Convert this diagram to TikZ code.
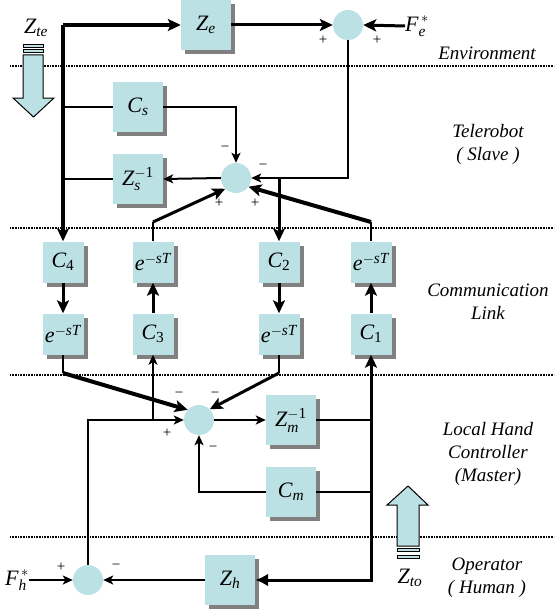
\documentclass[tikz,border=0pt]{standalone}
\usepackage{amsmath}
\usepackage{fontspec}
\setmainfont{Liberation Serif}
\usetikzlibrary{arrows.meta,shadows}

\definecolor{boxfill}{RGB}{187,225,229}
\definecolor{shade}{RGB}{128,128,128}

\tikzset{
  blk/.style={fill=boxfill, minimum width=50pt, minimum height=50pt, inner sep=0pt,
    drop shadow={shadow xshift=4pt, shadow yshift=-4pt, fill=shade, opacity=1},
    font=\fontsize{22}{24}\selectfont},
  cblk/.style={blk, minimum width=41pt, minimum height=41pt},
  sum/.style={circle, fill=boxfill, minimum size=30pt, inner sep=0pt},
  sgn/.style={font=\fontsize{15}{15}\selectfont, inner sep=0pt},
  lbl/.style={font=\fontsize{22}{24}\selectfont, inner sep=0pt},
  region/.style={font=\fontsize{19}{23}\selectfont\itshape, align=center, inner sep=0pt},
  sep/.style={line width=2pt, dash pattern=on 1pt off 0.6pt},
  vthick/.style={line width=4pt},
  thickline/.style={line width=3pt},
  midline/.style={line width=2pt},
  thinline/.style={line width=1.1pt},
  bigarr/.style={-{Stealth[length=13pt,width=12pt,inset=3pt]}},
  arr/.style={-{Stealth[length=10pt,width=9pt,inset=2.5pt]}},
  hollow/.style={fill=boxfill, draw=black, line width=1pt}
}

\begin{document}
\begin{tikzpicture}[x=1pt,y=-1pt]
\useasboundingbox (0,0) rectangle (554,610);

% layer borders
\foreach \y in {66,228,375,537}
\draw[sep] (10,\y) -- (554,\y);

% environment
\node[blk] (Ze) at (206,25) {$\textit{Z}_{\textit{e}}$};
\node[sum] (sumE) at (348,25) {};
\node[lbl] (Fe) at (417,26) {$\textit{F}_{\textit{e}}^{\,*}$};
\node[lbl] (Zte) at (36,28) {$\textit{Z}_{\textit{te}}$};
\node[region] (env) at (487,53) {Environment};

% slave
\node[blk] (Cs) at (138,107) {$\textit{C}_{\textit{s}}$};
\node[blk] (Zsi) at (138,179) {$\textit{Z}_{\textit{s}}^{-\textrm{1}}$};
\node[sum] (sumS) at (236,178) {};
\node[region] (slave) at (488,144) {Telerobot\\( Slave )};

% communication link
\node[cblk] (C4) at (63,262) {$\textit{C}_{\textrm{4}}$};
\node[cblk] (eB) at (153,262) {$\textit{e}^{-\textit{sT}}$};
\node[cblk] (C2) at (279,262) {$\textit{C}_{\textrm{2}}$};
\node[cblk] (eD) at (371,262) {$\textit{e}^{-\textit{sT}}$};
\node[cblk] (eA) at (63,334) {$\textit{e}^{-\textit{sT}}$};
\node[cblk] (C3) at (153,334) {$\textit{C}_{\textrm{3}}$};
\node[cblk] (eC) at (279,334) {$\textit{e}^{-\textit{sT}}$};
\node[cblk] (C1) at (371,334) {$\textit{C}_{\textrm{1}}$};
\node[region] (comm) at (488,302) {Communication\\Link};

% master
\node[sum] (sumM) at (199,420) {};
\node[blk] (Zmi) at (291,420) {$\textit{Z}_{\textit{m}}^{-\textrm{1}}$};
\node[blk] (Cm) at (291,492) {$\textit{C}_{\textit{m}}$};
\node[region] (master) at (488,454) {Local Hand\\Controller\\(Master)};

% operator
\node[sum] (sumH) at (88,580) {};
\node[blk] (Zh) at (230,580) {$\textit{Z}_{\textit{h}}$};
\node[lbl] (Fh) at (17,580) {$\textit{F}_{\textit{h}}^{\,*}$};
\node[lbl] (Zto) at (410,578) {$\textit{Z}_{\textit{to}}$};
\node[region] (oper) at (487,578) {Operator\\( Human )};

% impedance arrows
\draw[hollow] (23,55) -- (43,55) -- (43,98) -- (54,98) -- (33.5,117) -- (13,98) -- (23,98) -- cycle;
\draw[hollow] (23,45) rectangle (43,48);
\draw[hollow] (23,50) rectangle (43,53);
\draw[hollow] (397,546) -- (419,546) -- (419,505) -- (428,505) -- (408,486) -- (387,505) -- (397,505) -- cycle;
\draw[hollow] (397,548) rectangle (419,551);
\draw[hollow] (397,555) rectangle (419,558);

% signs
\node[sgn] (s1) at (323,40) {+};
\node[sgn] (s2) at (377,40) {+};
\node[sgn] (s3) at (225,149) {−};
\node[sgn] (s4) at (263,167) {−};
\node[sgn] (s5) at (219,203) {+};
\node[sgn] (s6) at (255,203) {+};
\node[sgn] (s7) at (179,395) {−};
\node[sgn] (s8) at (215,395) {−};
\node[sgn] (s9) at (167,433) {+};
\node[sgn] (s10) at (213,449) {−};
\node[sgn] (s11) at (61,567) {+};
\node[sgn] (s12) at (116,567) {−};

% kinks of the delay lines
\coordinate (kB) at (153,222);
\coordinate (kD) at (371,222);
\coordinate (kA) at (63,373);
\coordinate (kC) at (279,373);

% slave side
\draw[vthick,bigarr] (C4.north |- Ze.west) -- (Ze.west);
\draw[vthick,bigarr] (C4.north |- Ze.west) -- (C4.north);
\draw[thickline,bigarr] (Ze.east) -- (sumE.west);
\draw[thickline,bigarr] (Fe.west) -- (sumE.east);
\draw[midline,arr] (sumE.south) -- (sumE.south |- sumS.east) -- (sumS.east);
\draw[thickline,bigarr] (C2.north |- sumS.east) -- (C2.north);
\draw[thinline] (C4.north |- Cs.west) -- (Cs.west);
\draw[thinline] (C4.north |- Zsi.west) -- (Zsi.west);
\draw[midline,arr] (Cs.east) -- (sumS.north |- Cs.east) -- (sumS.north);
\draw[midline,arr] (sumS.west) -- (Zsi.east);
\draw[thinline] (eB.north) -- (kB);
\draw[thickline,bigarr] (kB) -- (sumS.225);
\draw[thinline] (eD.north) -- (kD);
\draw[vthick,bigarr] (kD) -- (sumS.-35);

% communication
\draw[thickline,bigarr] (C4.south) -- (eA.north);
\draw[thickline,bigarr] (C2.south) -- (eC.north);
\draw[thickline,bigarr] (C3.north) -- (eB.south);
\draw[thickline,bigarr] (C1.north) -- (eD.south);

% master side
\draw[thinline] (eA.south) -- (kA);
\draw[vthick,bigarr] (kA) -- (sumM.138);
\draw[thinline] (eC.south) -- (kC);
\draw[thickline,bigarr] (kC) -- (sumM.45);
\draw[midline,arr] (sumH.north) -- (sumH.north |- sumM.west) -- (sumM.west);
\draw[midline,arr] (C3.south |- sumM.west) -- (C3.south);
\draw[midline,arr] (sumM.east) -- (Zmi.west);
\draw[thinline] (Zmi.east) -- (C1.south |- Zmi.east);
\draw[thinline] (Cm.east) -- (C1.south |- Cm.east);
\draw[midline,arr] (Cm.west) -- (sumM.south |- Cm.west) -- (sumM.south);

% operator side
\draw[thickline,{Latex[length=13pt,width=13pt]}-{Stealth[length=13pt,width=12pt,inset=3pt]}] (Zh.east) -- (C1.south |- Zh.east) -- (C1.south);
\draw[midline,arr] (Zh.west) -- (sumH.east);
\draw[midline,arr] (Fh.east) -- (sumH.west);
\end{tikzpicture}
\end{document}
